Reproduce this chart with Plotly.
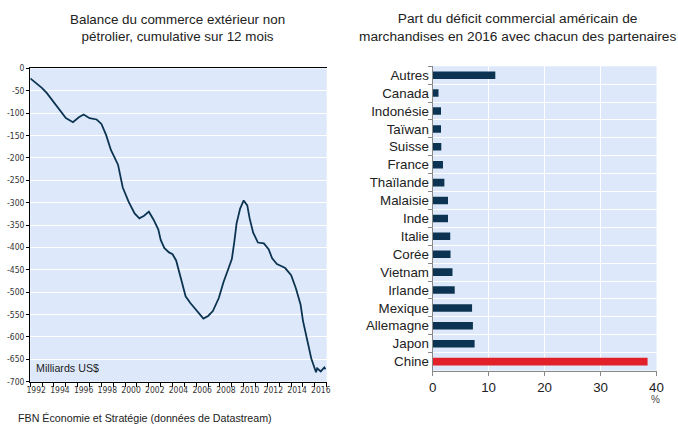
import plotly.graph_objects as go

# balance commerciale non pétrolière, cumul 12 mois (milliards US$)
years = [1992.0, 1992.5, 1993.0, 1993.4, 1994.0, 1994.5, 1995.0, 1995.6, 1996.1, 1996.5,
         1997.0, 1997.6, 1998.0, 1998.4, 1998.8, 1999.4, 1999.8, 2000.3, 2000.8, 2001.2,
         2001.6, 2002.0, 2002.4, 2002.8, 2003.0, 2003.3, 2003.7, 2004.0, 2004.3, 2004.7,
         2005.1, 2005.5, 2006.1, 2006.6, 2007.0, 2007.4, 2007.9, 2008.3, 2008.7, 2009.0,
         2009.2, 2009.4, 2009.7, 2010.0, 2010.3, 2010.5, 2010.8, 2011.2, 2011.7, 2012.1,
         2012.4, 2012.8, 2013.2, 2013.5, 2014.0, 2014.4, 2014.8, 2015.0, 2015.3, 2015.7,
         2016.1, 2016.2, 2016.5, 2016.8, 2016.9]
balance = [-22, -33, -44, -55, -75, -92, -111, -120, -109, -103,
           -111, -114, -124, -149, -182, -215, -266, -298, -324, -335,
           -329, -320, -338, -360, -383, -401, -411, -415, -429, -469,
           -509, -524, -542, -559, -553, -542, -513, -477, -448, -426,
           -389, -346, -313, -295, -306, -335, -367, -389, -391, -404,
           -424, -437, -442, -446, -462, -491, -528, -564, -600, -648,
           -679, -670, -677, -668, -672]

year_labels = [str(y) for y in range(1992, 2017, 2)]
y_vals = list(range(0, -701, -50))
y_text = [str(v) for v in y_vals]

# part du déficit commercial américain 2016 (%)
pays = ["Autres", "Canada", "Indonésie", "Taïwan", "Suisse", "France", "Thaïlande",
        "Malaisie", "Inde", "Italie", "Corée", "Vietnam", "Irlande", "Mexique",
        "Allemagne", "Japon", "Chine"]
part = [11.2, 1.05, 1.5, 1.5, 1.55, 1.85, 2.1, 2.75, 2.75, 3.15, 3.2, 3.55, 3.95,
        7.05, 7.2, 7.5, 38.4]

navy = "#0c3452"
bg = "#dde9fa"
narrow = "Liberation Sans Narrow, Arial Narrow, DejaVu Sans Condensed, sans-serif"

fig = go.Figure()
fig.add_trace(go.Scatter(x=years, y=balance, mode="lines",
                         line=dict(color=navy, width=1.8),
                         xaxis="x", yaxis="y", showlegend=False))
fig.add_trace(go.Bar(x=part, y=pays, orientation="h", width=0.42,
                     marker=dict(color=["#e2202a" if p == "Chine" else navy for p in pays],
                                 line=dict(width=0)),
                     xaxis="x2", yaxis="y2", showlegend=False))

fig.update_layout(
    width=678, height=429,
    margin=dict(l=0, r=0, t=0, b=0),
    paper_bgcolor="white",
    font=dict(family="Liberation Sans, Arial, sans-serif", color="#222"),
    xaxis=dict(domain=[0.0394, 0.4838], anchor="y", range=[1992, 2017],
               tickvals=[int(y) + 0.5 for y in year_labels], ticktext=year_labels,
               ticks="", showgrid=False, zeroline=False,
               showline=True, mirror=True, linecolor="black", linewidth=1.3,
               tickfont=dict(family=narrow, size=8.5, color="#333"),
               minor=dict(tickvals=list(range(1992, 2018)), ticks="outside",
                          ticklen=4, tickcolor="black", showgrid=False)),
    xaxis3=dict(overlaying="x", anchor="y", range=[1992, 2017],
                tickvals=list(range(1996, 2017, 4)), showticklabels=False, ticks="",
                showgrid=True, gridcolor="white", gridwidth=1.2, zeroline=False),
    yaxis=dict(domain=[0.1009, 0.8485], anchor="x", range=[-700, 0],
               tickvals=y_vals, ticktext=y_text, ticks="outside", ticklen=3,
               tickcolor="black", showgrid=True, gridcolor="white", gridwidth=1.2,
               zeroline=False, showline=True, linecolor="black", linewidth=1.3,
               tickfont=dict(family=narrow, size=8.5, color="#333")),
    xaxis2=dict(domain=[0.6426, 0.9783], anchor="y2", range=[0, 40],
                tickvals=[0, 10, 20, 30, 40], ticks="outside", ticklen=4,
                tickcolor="#888", showgrid=True, gridcolor="white", gridwidth=1.2,
                zeroline=False, showline=True, linecolor="#888",
                tickfont=dict(size=13.33, color="#222")),
    yaxis2=dict(domain=[0.1275, 0.8538], anchor="x2", type="category",
                autorange="reversed", tickson="boundaries", ticks="outside",
                ticklen=4, tickcolor="#888", showgrid=True, gridcolor="white",
                gridwidth=1.2, showline=True, linecolor="#888",
                tickfont=dict(size=13.33, color="#222")),
    plot_bgcolor=bg,
)

fig.add_annotation(text="Balance du commerce extérieur non<br>pétrolier, cumulative sur 12 mois",
                   xref="paper", yref="paper", x=0.2596, y=0.946, showarrow=False,
                   xanchor="center", yanchor="middle", font=dict(size=13.4, color="#222"))
fig.add_annotation(text="Part du déficit commercial américain de<br>marchandises en 2016 avec chacun des partenaires",
                   xref="paper", yref="paper", x=0.7695, y=0.946, showarrow=False,
                   xanchor="center", yanchor="middle", font=dict(size=13.7, color="#222"))
fig.add_annotation(text="Milliards US$", xref="paper", yref="paper", x=0.0457, y=0.1335,
                   showarrow=False, xanchor="left", yanchor="middle",
                   font=dict(size=10.7, color="#222"))
fig.add_annotation(text="%", xref="paper", yref="paper", x=0.9764, y=0.0583,
                   showarrow=False, xanchor="center", yanchor="middle",
                   font=dict(size=10, color="#444"))
fig.add_annotation(text="FBN Économie et Stratégie (données de Datastream)",
                   xref="paper", yref="paper", x=0.0177, y=0.014, showarrow=False,
                   xanchor="left", yanchor="middle", font=dict(size=10.7, color="#222"))

page_css = ("document.documentElement.style.margin='0';"
            "document.documentElement.style.overflow='hidden';"
            "document.body.style.margin='0';"
            "document.body.style.overflow='hidden';")
fig.write_html("out.html", config={"displayModeBar": False}, post_script=page_css)
